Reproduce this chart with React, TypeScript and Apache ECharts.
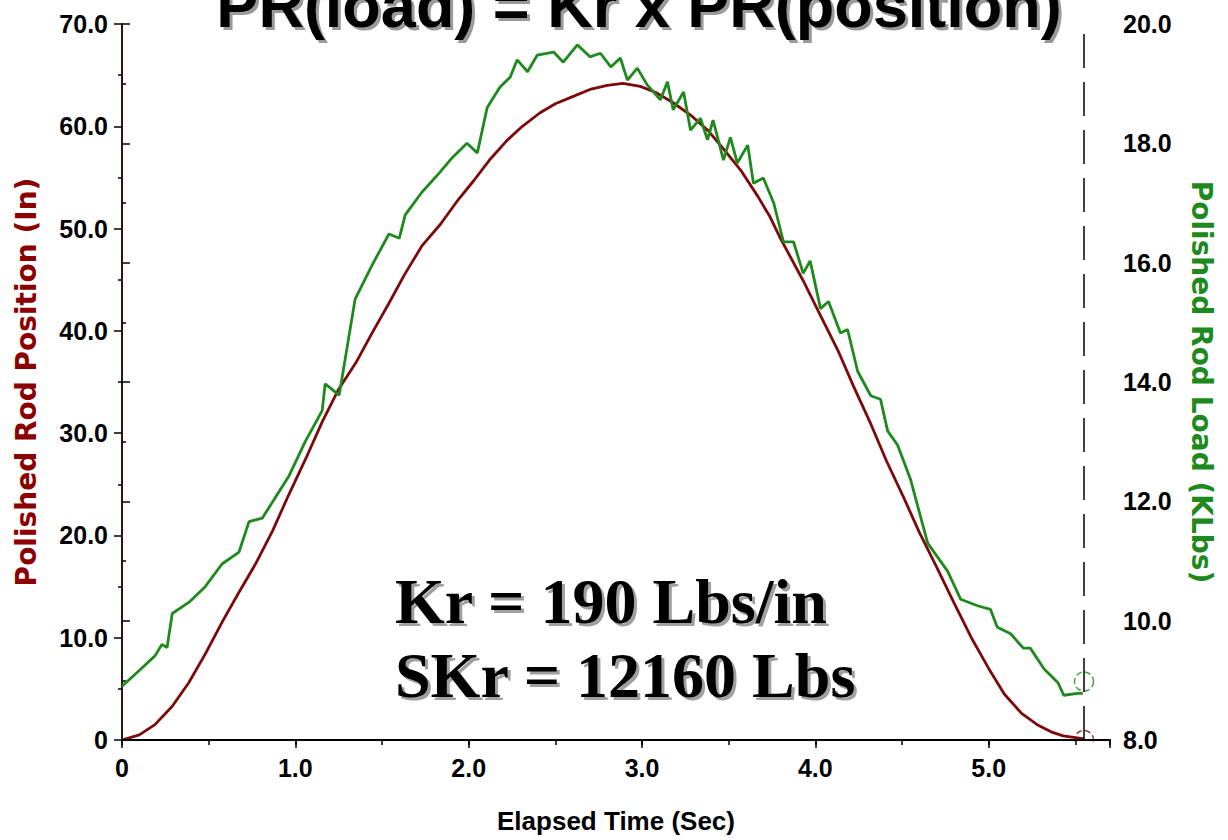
import React, { useEffect, useRef } from "react";
import * as echarts from "echarts";

// Polished rod position (in) vs elapsed time (sec)
const posTime = [0, 0.1, 0.19, 0.29, 0.385, 0.48, 0.58, 0.67, 0.77, 0.87, 0.96, 1.06, 1.155, 1.25, 1.35, 1.44, 1.54, 1.63, 1.73, 1.836, 1.93, 2.03, 2.12, 2.22, 2.31, 2.41, 2.5, 2.6, 2.7, 2.8, 2.89, 2.99, 3.08, 3.18, 3.28, 3.38, 3.47, 3.57, 3.67, 3.74, 3.8, 3.93, 4.03, 4.13, 4.22, 4.32, 4.41, 4.51, 4.6, 4.7, 4.8, 4.9, 5.0, 5.09, 5.19, 5.28, 5.36, 5.43, 5.51, 5.55];
const posValues = [0, 0.5, 1.5, 3.3, 5.6, 8.4, 11.6, 14.3, 17.2, 20.5, 23.9, 27.5, 31.1, 34.3, 36.9, 39.7, 42.7, 45.5, 48.3, 50.4, 52.6, 54.7, 56.7, 58.6, 60.0, 61.3, 62.2, 62.9, 63.6, 64.0, 64.2, 63.9, 63.3, 62.3, 61.1, 59.6, 57.8, 55.7, 53.1, 51.1, 49.0, 44.9, 41.5, 38.1, 34.6, 30.9, 27.3, 23.7, 20.3, 16.9, 13.4, 10.0, 7.0, 4.5, 2.6, 1.5, 0.8, 0.4, 0.2, 0.1];

// Polished rod load (KLbs) vs elapsed time (sec)
const loadTime = [0, 0.098, 0.19, 0.23, 0.26, 0.29, 0.387, 0.48, 0.577, 0.675, 0.733, 0.81, 0.964, 1.057, 1.155, 1.172, 1.253, 1.345, 1.443, 1.54, 1.6, 1.634, 1.73, 1.83, 1.905, 1.99, 2.05, 2.107, 2.18, 2.24, 2.28, 2.34, 2.396, 2.49, 2.546, 2.627, 2.7, 2.76, 2.82, 2.875, 2.916, 2.973, 3.03, 3.106, 3.147, 3.18, 3.24, 3.28, 3.337, 3.378, 3.41, 3.47, 3.51, 3.55, 3.61, 3.643, 3.7, 3.76, 3.816, 3.874, 3.93, 3.97, 4.03, 4.076, 4.145, 4.186, 4.244, 4.32, 4.376, 4.417, 4.475, 4.55, 4.648, 4.763, 4.838, 4.936, 5.01, 5.05, 5.127, 5.2, 5.24, 5.32, 5.4, 5.433, 5.514, 5.543];
const loadValues = [8.9, 9.16, 9.41, 9.6, 9.55, 10.12, 10.31, 10.57, 10.95, 11.15, 11.66, 11.72, 12.43, 13.0, 13.52, 13.97, 13.78, 15.39, 15.96, 16.48, 16.41, 16.8, 17.18, 17.5, 17.76, 18.0, 17.84, 18.6, 18.94, 19.11, 19.4, 19.2, 19.48, 19.53, 19.36, 19.65, 19.45, 19.51, 19.28, 19.43, 19.06, 19.26, 18.98, 18.73, 19.03, 18.56, 18.86, 18.22, 18.42, 18.06, 18.39, 17.72, 18.1, 17.67, 17.97, 17.33, 17.42, 17.0, 16.35, 16.35, 15.82, 16.03, 15.23, 15.35, 14.82, 14.88, 14.18, 13.77, 13.71, 13.18, 12.94, 12.36, 11.3, 10.83, 10.36, 10.25, 10.19, 9.89, 9.78, 9.54, 9.54, 9.19, 8.96, 8.75, 8.78, 8.78];

// End-of-stroke cursor and markers
const cursorTime = 5.55;
const markerPos = [5.55, 0];
const markerLoad = [5.55, 8.98];

const titleText = "PR(load) = Kr x PR(position)";
const noteLines = ["Kr = 190 Lbs/in", "SKr = 12160 Lbs"];

const RED = "#7d0a0a";
const GREEN = "#1e8a1e";
const SANS = "'Liberation Sans', Arial, sans-serif";

function fmt1(v: number) {
  return v === 0 ? "0" : v.toFixed(1);
}

export default function App() {
  const ref = useRef<HTMLDivElement>(null);
  useEffect(() => {
    document.body.style.margin = "0";
    if (!ref.current) return;
    const chart = echarts.init(ref.current, undefined, { renderer: "svg" });
    const labelStyle = {
      color: "#000",
      fontFamily: SANS,
      fontWeight: "bold" as const,
      fontSize: 25,
    };
    const option: any = {
      animation: false,
      backgroundColor: "#fff",
      grid: { left: 122, right: 118, top: 24, bottom: 100, containLabel: false, outerBoundsMode: "none" },
      xAxis: [
        {
          type: "value",
          min: 0,
          max: 5.7,
          interval: 1,
          z: 5,
          name: "Elapsed Time (Sec)",
          nameLocation: "middle",
          nameGap: 68,
          nameTextStyle: { color: "#000", fontFamily: SANS, fontWeight: "bold", fontSize: 26 },
          axisLine: { show: true, onZero: false, lineStyle: { color: "#000", width: 2 } },
          axisTick: { show: true, length: 8, lineStyle: { color: "#000", width: 1.5 } },
          axisLabel: {
            ...labelStyle,
            margin: 15,
            formatter: (v: number) => (Math.abs(v - Math.round(v)) < 1e-6 ? fmt1(v) : ""),
          },
          splitLine: { show: false },
        },
        {
          type: "value",
          min: 0,
          max: 5.7,
          interval: 0.5,
          position: "bottom",
          z: 5,
          axisLine: { show: false, onZero: false },
          axisTick: { show: true, length: 5, lineStyle: { color: "#000", width: 1.5 } },
          axisLabel: { show: false },
          splitLine: { show: false },
        },
      ],
      yAxis: [
        {
          type: "value",
          min: 0,
          max: 70,
          interval: 10,
          position: "left",
          name: "Polished Rod Position (In)",
          nameLocation: "middle",
          nameRotate: 90,
          nameGap: 82,
          nameTextStyle: { color: "#8b0000", fontFamily: "'DejaVu Sans', sans-serif", fontWeight: "bold", fontSize: 28 },
          axisLine: { show: true, lineStyle: { color: "#b01010", width: 1.5 } },
          axisTick: { show: true, length: 8, lineStyle: { color: "#000", width: 1.5 } },
          minorTick: { show: true, splitNumber: 2, length: 4, lineStyle: { color: "#000", width: 1.5 } },
          axisLabel: { ...labelStyle, margin: 14, formatter: (v: number) => fmt1(v) },
          splitLine: { show: false },
          minorSplitLine: { show: false },
        },
        {
          type: "value",
          min: 8,
          max: 20,
          interval: 2,
          position: "right",
          name: "Polished Rod Load (KLbs)",
          nameLocation: "middle",
          nameRotate: -90,
          nameGap: 77,
          nameTextStyle: { color: GREEN, fontFamily: "'DejaVu Sans', sans-serif", fontWeight: "bold", fontSize: 28 },
          axisLine: { show: true, lineStyle: { color: "#000", width: 1.5 } },
          axisTick: { show: true, length: 8, lineStyle: { color: "#000", width: 1.5 } },
          minorTick: { show: true, splitNumber: 2, length: 4, lineStyle: { color: "#000", width: 1.5 } },
          axisLabel: { ...labelStyle, margin: 13, formatter: (v: number) => v.toFixed(1) },
          splitLine: { show: false },
          minorSplitLine: { show: false },
        },
      ],
      series: [
        {
          name: "Polished Rod Position",
          type: "line",
          xAxisIndex: 0,
          yAxisIndex: 0,
          data: posTime.map((t, i) => [t, posValues[i]]),
          showSymbol: false,
          lineStyle: { color: RED, width: 2.8 },
          itemStyle: { color: RED },
          z: 2,
          markLine: {
            silent: true,
            symbol: ["none", "none"],
            label: { show: false },
            lineStyle: { color: "#000", width: 1.5, type: [34, 14] },
            data: [{ xAxis: cursorTime }],
          },
        },
        {
          name: "Polished Rod Load",
          type: "line",
          xAxisIndex: 0,
          yAxisIndex: 1,
          data: loadTime.map((t, i) => [t, loadValues[i]]),
          showSymbol: false,
          lineStyle: { color: GREEN, width: 2.8 },
          itemStyle: { color: GREEN },
          z: 2,
        },
        {
          type: "scatter",
          xAxisIndex: 0,
          yAxisIndex: 1,
          data: [markerLoad],
          symbol: "circle",
          symbolSize: 19,
          clip: false,
          itemStyle: { color: "rgba(255,255,255,0)", borderColor: GREEN, borderWidth: 1.5, borderType: "dashed" },
          z: 3,
        },
        {
          type: "scatter",
          xAxisIndex: 0,
          yAxisIndex: 0,
          data: [markerPos],
          symbol: "circle",
          symbolSize: 19,
          clip: false,
          itemStyle: { color: "rgba(255,255,255,0)", borderColor: RED, borderWidth: 1.5, borderType: "dashed" },
          z: 3,
        },
      ],
      graphic: [
        { type: "rect", z: 4, shape: { x: 1068, y: 741.5, width: 28, height: 16 }, style: { fill: "#fff" } },
        {
          type: "text", z: 10, x: 642, y: 7.5,
          style: { text: titleText, font: "bold 63px 'Liberation Sans', Arial, sans-serif", fill: "#9a9a9a", textAlign: "center", textVerticalAlign: "middle" },
        },
        {
          type: "text", z: 11, x: 639, y: 4.5,
          style: { text: titleText, font: "bold 63px 'Liberation Sans', Arial, sans-serif", fill: "#000", textAlign: "center", textVerticalAlign: "middle" },
        },
        ...noteLines.flatMap((line, i) => [
          {
            type: "text", z: 10, x: 398, y: 604.5 + i * 74,
            style: { text: line, font: "bold 64px 'Liberation Serif', 'Times New Roman', serif", fill: "#a0a0a0", textAlign: "left", textVerticalAlign: "middle" },
          },
          {
            type: "text", z: 11, x: 395, y: 601.5 + i * 74,
            style: { text: line, font: "bold 64px 'Liberation Serif', 'Times New Roman', serif", fill: "#000", textAlign: "left", textVerticalAlign: "middle" },
          },
        ]),
      ],
    };
    chart.setOption(option);
    return () => chart.dispose();
  }, []);
  return <div ref={ref} style={{ width: 1228, height: 840 }} />;
}
